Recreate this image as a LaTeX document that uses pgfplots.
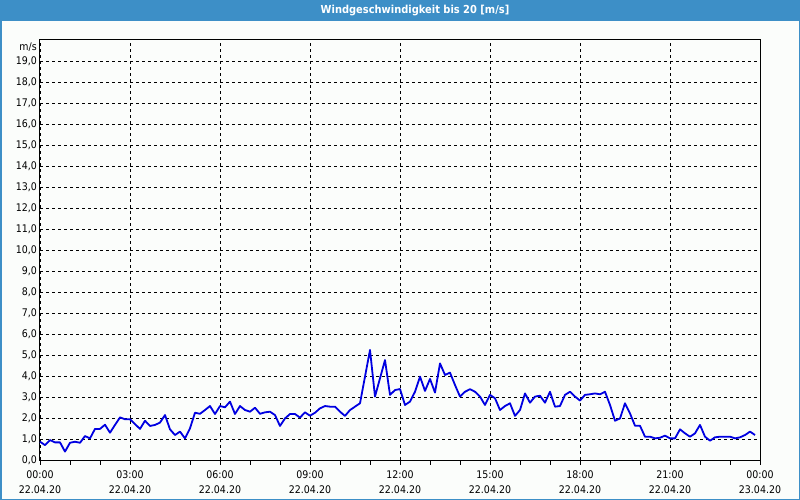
\documentclass[border=0pt]{standalone}
\usepackage{pgfplots}
\pgfplotsset{compat=1.18}
\usepackage{fontspec}
\setmainfont{DejaVu Sans Condensed}
\newfontfamily\titlefont{DejaVu Sans Condensed}
\definecolor{barblue}{RGB}{61,143,199}
\definecolor{bgcol}{RGB}{251,253,251}
\definecolor{lineblue}{RGB}{0,0,225}
\begin{document}
\begin{tikzpicture}
\useasboundingbox (0,0) rectangle (800bp,500bp);
\fill[bgcol] (0,0) rectangle (800bp,500bp);
\fill[barblue] (0,479bp) rectangle (800bp,500bp);
\draw[barblue, line width=1.5bp] (0.75bp,0.75bp) rectangle (799.25bp,499.25bp);
\node[text=white, font=\titlefont\bfseries\fontsize{11bp}{13bp}\selectfont] at (415bp,489.5bp) {Windgeschwindigkeit bis 20 [m/s]};
\begin{axis}[
  at={(40bp,40bp)}, anchor=south west,
  scale only axis, width=720bp, height=420bp,
  xmin=0, xmax=1440, ymin=0, ymax=20,
  xtick={0,180,360,540,720,900,1080,1260,1440},
  xticklabels={{00:00\\22.04.20},{03:00\\22.04.20},{06:00\\22.04.20},{09:00\\22.04.20},{12:00\\22.04.20},{15:00\\22.04.20},{18:00\\22.04.20},{21:00\\22.04.20},{00:00\\23.04.20}},
  minor xtick={60,120,240,300,420,480,600,660,780,840,960,1020,1140,1200,1320,1380},
  ytick={0,1,...,19},
  yticklabel={\pgfmathprintnumber[fixed,fixed zerofill,precision=1,use comma]{\tick}},
  /pgf/number format/assume math mode=true,
  tick align=outside,
  x tick style={black, line width=0.8bp},
  xtick pos=bottom, ytick pos=left,
  major tick length=4.5bp, minor tick length=4.5bp,
  y tick style={draw=none},
  xticklabel style={align=center, font=\fontsize{10.5bp}{15bp}\selectfont, inner sep=0pt, anchor=north, yshift=-6bp},
  yticklabel style={font=\fontsize{10.5bp}{12bp}\selectfont, inner sep=0pt, anchor=east, xshift=1.5bp},
  grid=major,
  major grid style={black, dashed, line width=0.8bp, dash pattern=on 3bp off 3bp},
  axis line style={black, line width=1bp},
  clip=false,
]
\addplot[lineblue, line width=1.8bp, line join=round] table[x=t, y=v] {
t v
0 0.87
10 0.71
20 0.95
30 0.84
40 0.84
50 0.40
60 0.82
70 0.87
80 0.82
90 1.14
100 1.03
110 1.48
120 1.48
130 1.68
140 1.30
150 1.67
160 2.03
170 1.94
180 1.94
190 1.71
200 1.48
210 1.87
220 1.62
230 1.67
240 1.78
250 2.14
260 1.46
270 1.19
280 1.35
290 1.03
300 1.51
310 2.25
320 2.20
330 2.38
340 2.57
350 2.19
360 2.57
370 2.51
380 2.78
390 2.19
400 2.57
410 2.38
420 2.30
430 2.49
440 2.20
450 2.27
460 2.30
470 2.14
480 1.62
490 1.98
500 2.19
510 2.19
520 2.02
530 2.27
540 2.11
550 2.25
560 2.46
570 2.57
580 2.54
590 2.54
600 2.30
610 2.10
620 2.38
630 2.54
640 2.70
650 3.97
660 5.24
670 3.02
680 3.89
690 4.76
700 3.10
710 3.33
720 3.38
730 2.62
740 2.78
750 3.25
760 3.97
770 3.29
780 3.86
790 3.21
800 4.60
810 4.05
820 4.16
830 3.57
840 3.02
850 3.25
860 3.37
870 3.25
880 3.02
890 2.62
900 3.10
910 2.94
920 2.38
930 2.57
940 2.70
950 2.10
960 2.38
970 3.17
980 2.73
990 3.02
1000 3.06
1010 2.73
1020 3.25
1030 2.54
1040 2.57
1050 3.10
1060 3.25
1070 3.02
1080 2.83
1090 3.10
1100 3.13
1110 3.17
1120 3.13
1130 3.25
1140 2.62
1150 1.87
1160 1.98
1170 2.70
1180 2.22
1190 1.63
1200 1.63
1210 1.11
1220 1.11
1230 1.03
1240 1.06
1250 1.16
1260 1.03
1270 1.03
1280 1.46
1290 1.27
1300 1.11
1310 1.27
1320 1.67
1330 1.11
1340 0.92
1350 1.08
1360 1.11
1370 1.11
1380 1.11
1390 1.03
1400 1.08
1410 1.19
1420 1.35
1430 1.19
};
\node[anchor=east, inner sep=0pt, font=\fontsize{10.5bp}{12bp}\selectfont] at (rel axis cs:0,1) [xshift=-3bp, yshift=-7bp] {m/s};
\end{axis}
\end{tikzpicture}
\end{document}
